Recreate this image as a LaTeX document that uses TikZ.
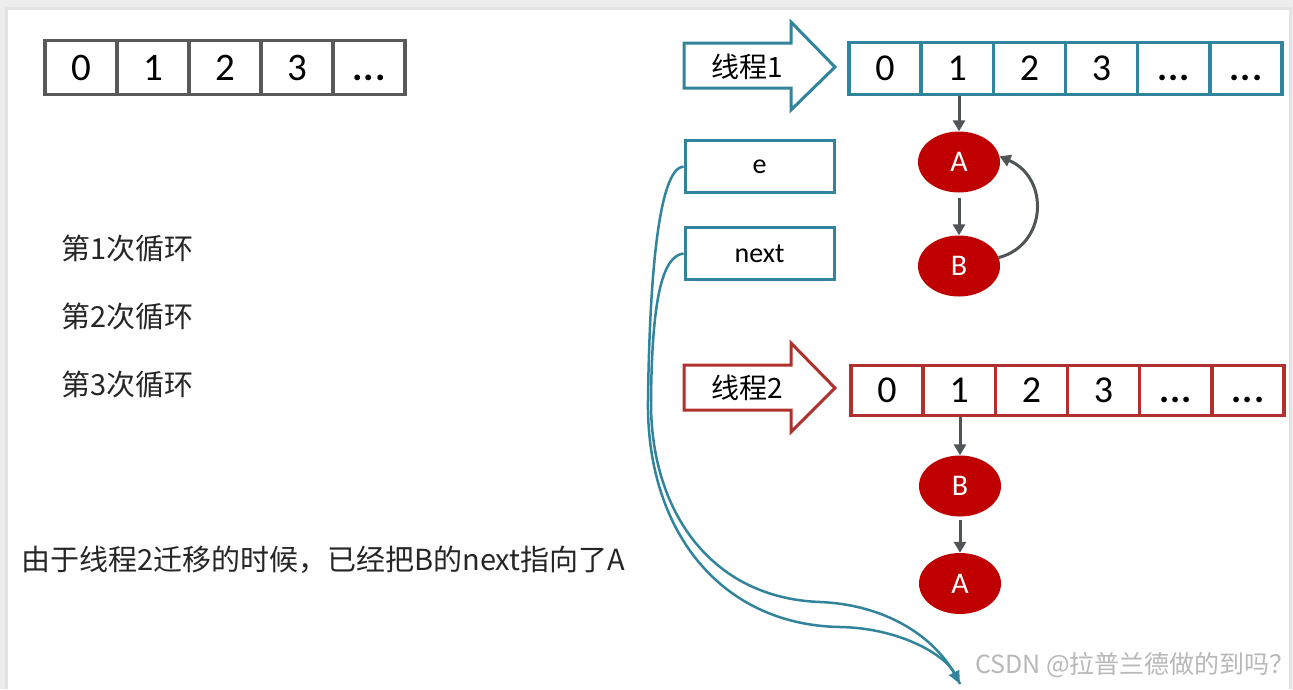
\documentclass[tikz,border=0pt]{standalone}
\usepackage{fontspec}
\setmainfont{Carlito}
\newfontfamily\cjk{Noto Sans CJK SC}
\usetikzlibrary{arrows.meta,shapes.geometric}
\definecolor{tealc}{HTML}{31849B}
\definecolor{redc}{HTML}{B0302E}
\definecolor{grayc}{HTML}{595959}
\definecolor{nodec}{HTML}{C00000}
\definecolor{arrc}{HTML}{4F5456}
\definecolor{wmark}{HTML}{B8B8B8}
\newcommand{\dd}{\vphantom{0}\textbf{.\kern1pt.\kern1pt.}}
\begin{document}
\begin{tikzpicture}[x=1pt,y=-1pt,
  gcell/.style={draw=grayc, line width=3.5pt, minimum width=72pt, minimum height=54pt, inner sep=0pt, font=\fontsize{39}{44}\selectfont},
  tcell/.style={draw=tealc, line width=3.5pt, minimum width=72.2pt, minimum height=52pt, inner sep=0pt, font=\fontsize{38}{44}\selectfont},
  rcell/.style={draw=redc, line width=3.5pt, minimum width=72.2pt, minimum height=50pt, inner sep=0pt, font=\fontsize{38}{44}\selectfont},
  varbox/.style={draw=tealc, line width=3pt, minimum width=149pt, minimum height=52pt, inner sep=0pt, font=\fontsize{28}{32}\selectfont},
  ent/.style={ellipse, fill=nodec, minimum width=82pt, minimum height=61pt, inner sep=0pt, text=white, font=\fontsize{30}{34}\selectfont},
  garrow/.style={draw=arrc, line width=3pt, -{Triangle[length=11pt,width=12pt]}},
  tarrow/.style={draw=tealc, line width=2.5pt},
  label/.style={anchor=west, inner sep=0pt, font=\cjk\fontsize{29}{34}\selectfont, text=black!85}
]
% background / frame
\fill[black!7] (0,0) rectangle (1293,689);
\fill[black!11] (5,7) rectangle (1292,689);
\fill[white] (8,10) rectangle (1289,689);
\useasboundingbox (0,0) rectangle (1293,689);

% top-left array
\foreach \i/\t [count=\k] in {0/0,1/1,2/2,3/3,4/\dd}
  \node[gcell] (g\k) at (81+72*\i,67.5) {\t};

% thread 1 arrow
\draw[draw=tealc, line width=3pt, line join=miter, fill=white]
  (684,43) -- (791,43) -- (791,22) -- (835,67) -- (791,110) -- (791,88) -- (684,88) -- cycle;
\node[font=\cjk\fontsize{28}{32}\selectfont, inner sep=0pt] (t1) at (747,67) {线程1};

% teal array
\foreach \i/\t [count=\k] in {0/0,1/1,2/2,3/3,4/\dd,5/\dd}
  \node[tcell] (a\k) at (885+72.2*\i,68.5) {\t};

% thread 2 arrow
\draw[draw=redc, line width=3pt, line join=miter, fill=white]
  (684,365) -- (791,365) -- (791,343) -- (835,388) -- (791,432) -- (791,410) -- (684,410) -- cycle;
\node[font=\cjk\fontsize{28}{32}\selectfont, inner sep=0pt] (t2) at (747,388) {线程2};

% red array
\foreach \i/\t [count=\k] in {0/0,1/1,2/2,3/3,4/\dd,5/\dd}
  \node[rcell] (r\k) at (887+72.2*\i,390.5) {\t};

% variable boxes
\node[varbox] (e) at (759.5,166.5) {e};
\node[varbox] (nx) at (759.5,253.5) {next};

% thread 1 chain
\node[ent] (A1) at (959,162) {A};
\node[ent] (B1) at (959,266) {B};
\draw[garrow] (A1.north |- a2.south) -- (A1.north);
\draw[garrow] ([yshift=-5pt]A1.south) -- (B1.north);
\draw[garrow] (B1.12) .. controls (1047,245) and (1050,178) .. (A1.8);

% thread 2 chain
\node[ent] (B2) at (960,486) {B};
\node[ent] (A2) at (960,583.5) {A};
\draw[garrow] (B2.north |- r2.south) -- (B2.north);
\draw[garrow] ([yshift=-3pt]B2.south) -- (A2.north);

% teal curves
\coordinate (tip) at (960,684);
\draw[tarrow] (nx.west) .. controls (662,256) and (652,300) .. (651,400)
  .. controls (650,510) and (710,598) .. (820,602)
  .. controls (890,605) and (940,640) .. (tip);
\draw[tarrow, -{Triangle[length=13pt,width=11pt]}] (e.west) .. controls (662,168) and (650,250) .. (648,400)
  .. controls (646,530) and (720,625) .. (840,627)
  .. controls (900,628) and (945,655) .. (tip);

% left texts
\node[label] (l1) at (61,249) {第1次循环};
\node[label] (l2) at (61,317) {第2次循环};
\node[label] (l3) at (61,385) {第3次循环};
\node[label] (note) at (21,560) {由于线程2迁移的时候，已经把B的next指向了A};

% watermark
\node[anchor=west, inner sep=0pt, text=wmark, font=\cjk\fontsize{25}{30}\selectfont] (wm) at (975,665) {CSDN @拉普兰德做的到吗？};
\end{tikzpicture}
\end{document}
